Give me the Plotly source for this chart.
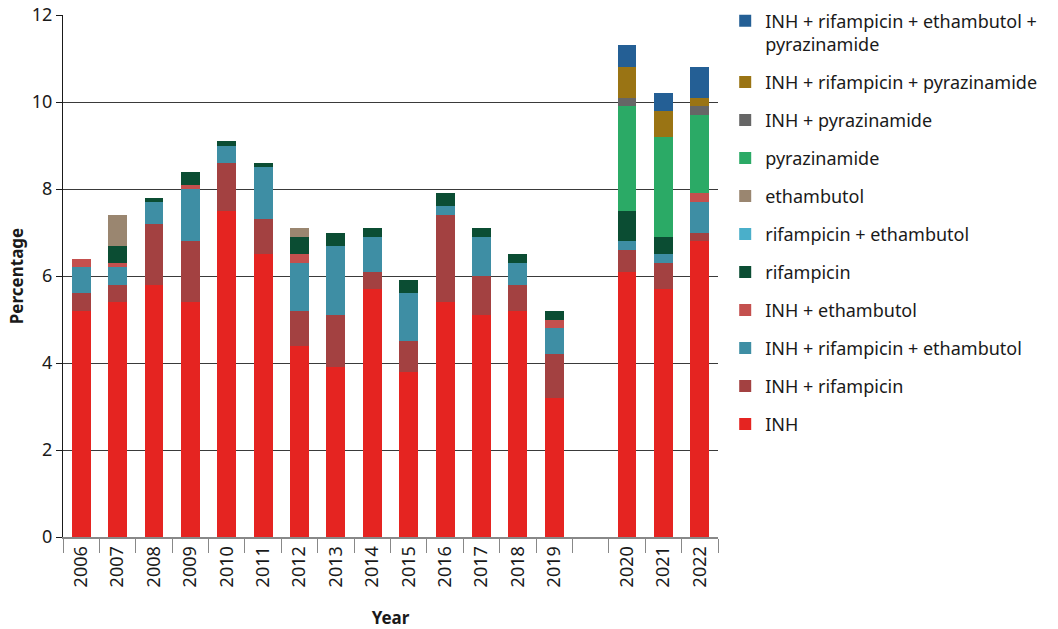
import plotly.graph_objects as go

# Years shown on the x axis; a blank slot separates 2019 from 2020
years_before = ["2006", "2007", "2008", "2009", "2010", "2011", "2012",
                "2013", "2014", "2015", "2016", "2017", "2018", "2019"]
years_after = ["2020", "2021", "2022"]
gap_label = " "

# Resistance percentages per year (2006–2022)
inh = [5.2, 5.4, 5.8, 5.4, 7.5, 6.5, 4.4, 3.9, 5.7, 3.8, 5.4, 5.1, 5.2, 3.2, 6.1, 5.7, 6.8]
inh_rif = [0.4, 0.4, 1.4, 1.4, 1.1, 0.8, 0.8, 1.2, 0.4, 0.7, 2.0, 0.9, 0.6, 1.0, 0.5, 0.6, 0.2]
inh_rif_eth = [0.6, 0.4, 0.5, 1.2, 0.4, 1.2, 1.1, 1.6, 0.8, 1.1, 0.2, 0.9, 0.5, 0.6, 0.2, 0.2, 0.7]
inh_eth = [0.2, 0.1, 0, 0.1, 0, 0, 0.2, 0, 0, 0, 0, 0, 0, 0.2, 0, 0, 0.2]
rif = [0, 0.4, 0.1, 0.3, 0.1, 0.1, 0.4, 0.3, 0.2, 0.3, 0.3, 0.2, 0.2, 0.2, 0.7, 0.4, 0]
rif_eth = [0, 0, 0, 0, 0, 0, 0, 0, 0, 0, 0, 0, 0, 0, 0, 0, 0]
eth = [0, 0.7, 0, 0, 0, 0, 0.2, 0, 0, 0, 0, 0, 0, 0, 0, 0, 0]
pza = [0, 0, 0, 0, 0, 0, 0, 0, 0, 0, 0, 0, 0, 0, 2.4, 2.3, 1.8]
inh_pza = [0, 0, 0, 0, 0, 0, 0, 0, 0, 0, 0, 0, 0, 0, 0.2, 0, 0.2]
inh_rif_pza = [0, 0, 0, 0, 0, 0, 0, 0, 0, 0, 0, 0, 0, 0, 0.7, 0.6, 0.2]
inh_rif_eth_pza = [0, 0, 0, 0, 0, 0, 0, 0, 0, 0, 0, 0, 0, 0, 0.5, 0.4, 0.7]

series = [
    ("INH", inh, "#E52421"),
    ("INH + rifampicin", inh_rif, "#A34141"),
    ("INH + rifampicin + ethambutol", inh_rif_eth, "#3E8EA4"),
    ("INH + ethambutol", inh_eth, "#C4504E"),
    ("rifampicin", rif, "#0B4D33"),
    ("rifampicin + ethambutol", rif_eth, "#4AAFCA"),
    ("ethambutol", eth, "#9A8670"),
    ("pyrazinamide", pza, "#2BAA66"),
    ("INH + pyrazinamide", inh_pza, "#666666"),
    ("INH + rifampicin + pyrazinamide", inh_rif_pza, "#9A7414"),
    ("INH + rifampicin + ethambutol +<br>pyrazinamide", inh_rif_eth_pza, "#245F95"),
]

n_before = len(years_before)
categories = years_before + [gap_label] + years_after

FONT = "Noto Sans"
TEXT = "#1a1a1a"

fig = go.Figure()
n_series = len(series)
for i, (name, vals, color) in enumerate(series):
    y = list(vals[:n_before]) + [None] + list(vals[n_before:])
    fig.add_trace(go.Bar(
        x=categories, y=y, name=name,
        marker=dict(color=color, line=dict(width=0)),
        legendgroup=f"g{i}",
        legendrank=n_series - i,  # top of the stack listed first
    ))

fig.update_layout(
    barmode="stack",
    bargap=0.48,
    width=1058, height=629,
    margin=dict(l=63, r=340, t=15, b=92, autoexpand=False),
    paper_bgcolor="white",
    plot_bgcolor="white",
    font=dict(family=FONT, size=18, color=TEXT),
    showlegend=True,
    legend=dict(
        x=1.011, xanchor="left", y=1.024, yanchor="top",
        traceorder="grouped",
        tracegroupgap=11.6,
        valign="top",
        maxheight=1.0,
        font=dict(family=FONT, size=18, color=TEXT),
        bgcolor="rgba(0,0,0,0)",
    ),
    xaxis=dict(
        type="category",
        categoryorder="array", categoryarray=categories,
        tickangle=-90,
        tickson="boundaries",
        ticks="outside", ticklen=14, tickcolor="#888888", tickwidth=1,
        showline=True, linecolor="#888888", linewidth=2,
        showgrid=False,
        tickfont=dict(family=FONT, size=18, color=TEXT),
        title=dict(text="<b>Year</b>", font=dict(family=FONT, size=17, color=TEXT),
                   standoff=26),
    ),
    yaxis=dict(
        range=[0, 12],
        tickvals=[0, 2, 4, 6, 8, 10, 12],
        showgrid=True, gridcolor="#3a3a3a", gridwidth=1,
        zeroline=False,
        showline=True, linecolor=TEXT, linewidth=1,
        ticks="outside", ticklen=6, tickcolor=TEXT,
        tickfont=dict(family=FONT, size=18, color=TEXT),
        title=dict(text="<b>Percentage</b>", font=dict(family=FONT, size=17, color=TEXT),
                   standoff=3),
    ),
)

fig.write_html("out.html")
